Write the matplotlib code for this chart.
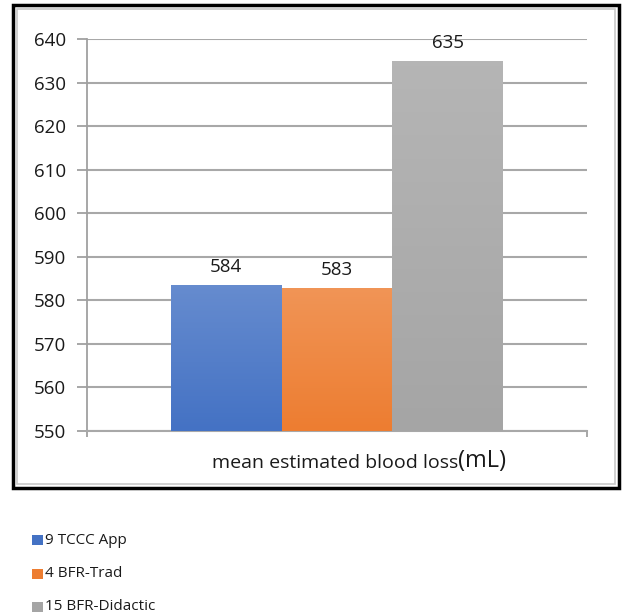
import matplotlib.pyplot as plt
import matplotlib.colors as mcolors
from matplotlib.patches import Rectangle
import numpy as np

groups = ['9 TCCC App', '4 BFR-Trad', '15 BFR-Didactic']
values = [583.5, 582.8, 635.0]
labels = ['584', '583', '635']
colors = ['#4472c4', '#ed7d31', '#a5a5a5']
yticks = [550, 560, 570, 580, 590, 600, 610, 620, 630, 640]

plt.rcParams['font.family'] = ['Open Sans', 'DejaVu Sans']

fig = plt.figure(figsize=(6.22, 6.14), dpi=100)
ax = fig.add_axes([87/622, 1 - 431/614, 500/622, 392/614])

w = 110.5 / 500 * 3
xs = [-w, 0, w]
bars = ax.bar(xs, [v - 550 for v in values], bottom=550, width=w, color=colors, zorder=2)

# soft vertical gradient on bars, lighter at top
for b, c in zip(bars, colors):
    base = np.array(mcolors.to_rgb(c))
    light = base + (1 - base) * 0.18
    grad = np.linspace(0, 1, 64)[:, None, None]
    img = base * (1 - grad) + light * grad
    x0, y0 = b.get_x(), b.get_y()
    im = ax.imshow(img, extent=[x0, x0 + b.get_width(), y0, y0 + b.get_height()],
                   origin='lower', aspect='auto', zorder=3)
    im.set_clip_path(b)

for x, v, t in zip(xs, values, labels):
    ax.text(x, v + 2.0, t, ha='center', va='bottom', fontsize=13.5, color='#1a1a1a', zorder=4)

ax.set_xlim(-1.5 * w / (332 / 500), 1.5 * w / (332 / 500))
ax.set_ylim(550, 640)
ax.set_yticks(yticks)
ax.tick_params(axis='y', labelsize=13.5, length=7, width=1.3, color='#a0a0a0', pad=8, labelcolor='#1a1a1a')
ax.set_xticks(ax.get_xlim())
ax.tick_params(axis='x', length=4, width=1.3, color='#a0a0a0', labelbottom=False)
ax.grid(axis='y', color='#a8a8a8', linewidth=1.5, zorder=1)
ax.set_axisbelow(True)
for s in ['top', 'right']:
    ax.spines[s].set_visible(False)
ax.spines['left'].set_color('#a0a0a0')
ax.spines['left'].set_linewidth(1.3)
ax.spines['bottom'].set_color('#a8a8a8')
ax.spines['bottom'].set_linewidth(1.5)

# x label, "(mL)" slightly larger
fig.text(458/622, 1 - 468/614, 'mean estimated blood loss', ha='right', va='baseline',
         fontsize=14, color='#1a1a1a')
fig.text(458/622, 1 - 467/614, '(mL)', ha='left', va='baseline', fontsize=17, color='#1a1a1a')

# chart frame
fig.add_artist(Rectangle((13/622, 1 - 488/614), 606/622, 483/614, transform=fig.transFigure,
                         fill=False, edgecolor='black', linewidth=2.5))
fig.add_artist(Rectangle((17/622, 1 - 484/614), 598/622, 475/614, transform=fig.transFigure,
                         fill=False, edgecolor='#c8c8c8', linewidth=1.2))

# legend below the frame
for i, (g, c) in enumerate(zip(groups, colors)):
    yc = 1 - (540 + i * 33.5) / 614
    fig.add_artist(Rectangle((32/622, yc - 5/614), 11/622, 10/614, transform=fig.transFigure,
                             facecolor=c, edgecolor='none'))
    fig.text(45/622, yc, g, ha='left', va='center', fontsize=11, color='#1a1a1a')

fig.savefig('out.png', dpi=100)
